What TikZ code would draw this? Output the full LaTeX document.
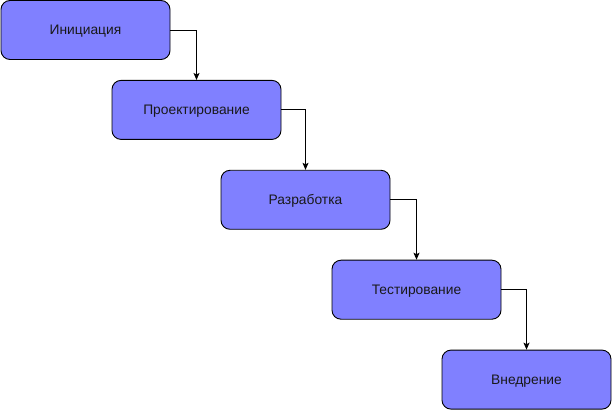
\documentclass[tikz,border=0pt]{standalone}
\usepackage{fontspec}
\setmainfont{Liberation Sans}
\usetikzlibrary{positioning,arrows.meta}
\definecolor{stagefill}{HTML}{8080FF}
\tikzset{
  box/.style ={draw=black, fill=stagefill, rounded corners=9pt, line width=0.9pt,
               minimum width=169pt, minimum height=59pt, align=center,
               text height=9.9pt, text depth=0pt,
               font=\fontsize{13.8}{16}\selectfont, text=black!90},
  fl/.style  ={-{Stealth[length=7pt,width=6pt,inset=1.5pt]}, line width=0.9pt},
}

\begin{document}
\begin{tikzpicture}[x=1pt,y=1pt]
  \useasboundingbox (0,0) rectangle (612,-411);

  % ---- stages ----
  \node[box] (init)   at (85.5,-30)   {Инициация};
  \node[box, below=20pt of init, xshift=111pt]   (design) {Проектирование};
  \node[box, below=30pt of design, xshift=109pt] (dev)    {Разработка};
  \node[box, below=30pt of dev, xshift=111pt]    (test)   {Тестирование};
  \node[box, below=30pt of test, xshift=110pt]   (deploy) {Внедрение};

  % ---- arrows ----
  \draw[fl] (init.east)   -| (design.north);
  \draw[fl] (design.east) -| (dev.north);
  \draw[fl] (dev.east)    -| (test.north);
  \draw[fl] (test.east)   -| (deploy.north);
\end{tikzpicture}
\end{document}
